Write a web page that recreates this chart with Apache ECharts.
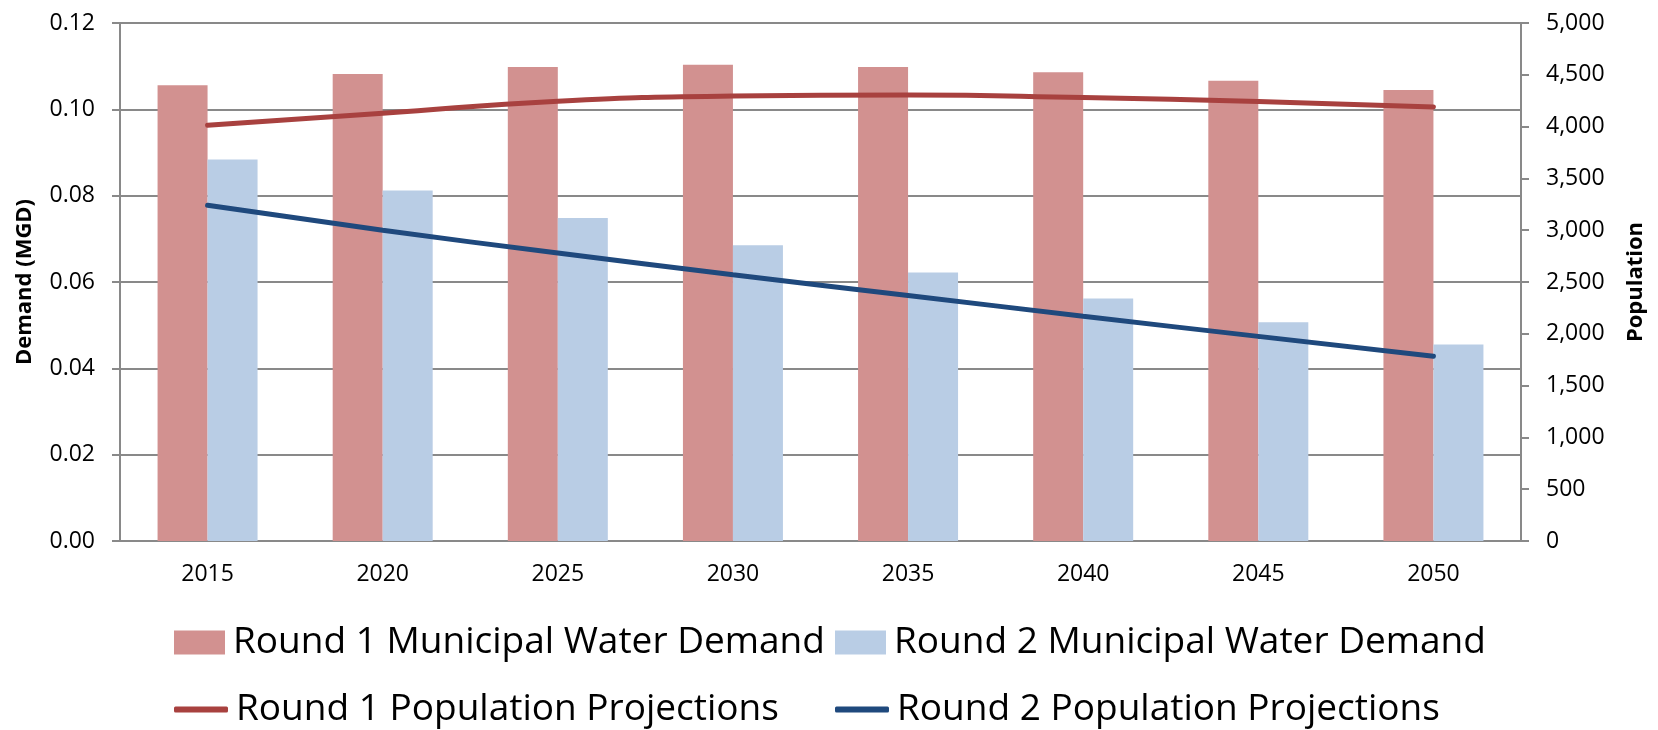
<!DOCTYPE html>
<html lang="en">
<head>
    <meta charset="UTF-8">
    <title>Municipal Water Demand and Population Projections</title>
    <script src="https://cdn.jsdelivr.net/npm/echarts@6.0.0/dist/echarts.min.js"></script>
    <style>
        html, body {
            margin: 0;
            padding: 0;
            background: #ffffff;
        }
        #chart {
            width: 1658px;
            height: 730px;
        }
    </style>
</head>
<body>
    <div id="chart"></div>
    <script>
        // data
        const years = ['2015', '2020', '2025', '2030', '2035', '2040', '2045', '2050'];
        const round1Demand = [0.1056, 0.1082, 0.1098, 0.1103, 0.1098, 0.1086, 0.1066, 0.1045];
        const round2Demand = [0.0884, 0.0812, 0.0748, 0.0685, 0.0622, 0.0562, 0.0507, 0.0455];
        const round1Population = [4013, 4128, 4245, 4295, 4305, 4280, 4242, 4189];
        const round2Population = [3240, 3000, 2780, 2570, 2370, 2170, 1975, 1783];

        const FONT = "'Open Sans', 'Noto Sans', sans-serif";
        const AXIS_GRAY = '#898989';

        const chart = echarts.init(document.getElementById('chart'));

        // one legend per item so the two rows line up in columns
        function legendAt(name, left, top, isLine) {
            return {
                data: [{ name: name, icon: isLine ? 'roundRect' : 'rect' }],
                left: left,
                top: top,
                padding: 0,
                itemWidth: isLine ? 54 : 51,
                itemHeight: isLine ? 6 : 24,
                selectedMode: false,
                textStyle: {
                    fontFamily: FONT,
                    fontSize: 37,
                    color: '#000',
                    padding: [0, 0, 0, 3]
                }
            };
        }

        const option = {
            animation: false,
            textStyle: { fontFamily: FONT },
            grid: {
                left: 120,
                right: 137,
                top: 23,
                bottom: 189
            },
            legend: [
                legendAt('Round 1 Municipal Water Demand', 174, 624, false),
                legendAt('Round 2 Municipal Water Demand', 835, 624, false),
                legendAt('Round 1 Population Projections', 174, 691, true),
                legendAt('Round 2 Population Projections', 835, 691, true)
            ],
            xAxis: {
                type: 'category',
                data: years,
                axisLine: { lineStyle: { color: AXIS_GRAY, width: 2 } },
                axisTick: { length: 8, lineStyle: { color: AXIS_GRAY, width: 2 } },
                axisLabel: { color: '#000', fontSize: 23, margin: 22, fontFamily: FONT }
            },
            yAxis: [
                {
                    type: 'value',
                    name: 'Demand (MGD)',
                    nameLocation: 'middle',
                    nameRotate: 90,
                    nameGap: 84,
                    nameTextStyle: { color: '#000', fontSize: 22, fontWeight: 'bold', fontFamily: FONT },
                    min: 0,
                    max: 0.12,
                    interval: 0.02,
                    axisLine: { show: true, lineStyle: { color: AXIS_GRAY, width: 2 } },
                    axisTick: { show: true, length: 8, lineStyle: { color: AXIS_GRAY, width: 2 } },
                    axisLabel: {
                        color: '#000',
                        fontSize: 23,
                        margin: 25,
                        fontFamily: FONT,
                        formatter: v => v.toFixed(2)
                    },
                    splitLine: { lineStyle: { color: AXIS_GRAY, width: 2 } }
                },
                {
                    type: 'value',
                    name: 'Population',
                    nameLocation: 'middle',
                    nameRotate: 90,
                    nameGap: 104,
                    nameTextStyle: { color: '#000', fontSize: 22, fontWeight: 'bold', fontFamily: FONT },
                    min: 0,
                    max: 5000,
                    interval: 500,
                    axisLine: { show: true, lineStyle: { color: AXIS_GRAY, width: 2 } },
                    axisTick: { show: true, length: 8, lineStyle: { color: AXIS_GRAY, width: 2 } },
                    axisLabel: {
                        color: '#000',
                        fontSize: 23,
                        margin: 25,
                        fontFamily: FONT,
                        formatter: v => String(v).replace(/\B(?=(\d{3})+(?!\d))/g, ',')
                    },
                    splitLine: { show: false }
                }
            ],
            series: [
                {
                    name: 'Round 1 Municipal Water Demand',
                    type: 'bar',
                    data: round1Demand,
                    barWidth: 50,
                    barGap: '0%',
                    itemStyle: { color: '#D29190' }
                },
                {
                    name: 'Round 2 Municipal Water Demand',
                    type: 'bar',
                    data: round2Demand,
                    barWidth: 50,
                    barGap: '0%',
                    itemStyle: { color: '#B9CDE5' }
                },
                {
                    name: 'Round 1 Population Projections',
                    type: 'line',
                    yAxisIndex: 1,
                    data: round1Population,
                    smooth: true,
                    symbol: 'none',
                    lineStyle: { color: '#A8413F', width: 5, cap: 'round' },
                    itemStyle: { color: '#A8413F' }
                },
                {
                    name: 'Round 2 Population Projections',
                    type: 'line',
                    yAxisIndex: 1,
                    data: round2Population,
                    smooth: true,
                    symbol: 'none',
                    lineStyle: { color: '#1F497D', width: 5, cap: 'round' },
                    itemStyle: { color: '#1F497D' }
                }
            ]
        };

        chart.setOption(option);
    </script>
</body>
</html>
